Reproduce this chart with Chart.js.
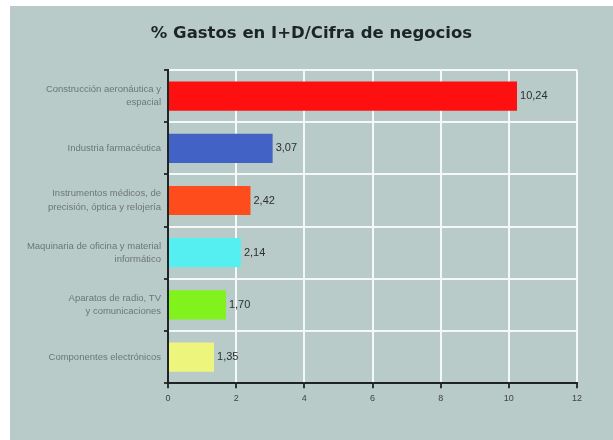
<!DOCTYPE html>
<html>
<head>
<meta charset="utf-8">
<script src="https://cdn.jsdelivr.net/npm/chart.js@4"></script>
<style>
  html, body { margin: 0; padding: 0; background: #ffffff; }
  #wrap {
    position: absolute; left: 10px; top: 6px;
    width: 603px; height: 434px;
    background: #b9cbc9;
  }
</style>
</head>
<body>
<div id="wrap"><canvas id="chart"></canvas></div>
<script>
// Sector labels (wrapped as in the original) and their values
const sectors = [
  ['Construcción aeronáutica y', 'espacial'],
  ['Industria farmacéutica'],
  ['Instrumentos médicos, de', 'precisión, óptica y relojería'],
  ['Maquinaria de oficina y material', 'informático'],
  ['Aparatos de radio, TV', 'y comunicaciones'],
  ['Componentes electrónicos']
];
const gastoPct = [10.24, 3.07, 2.42, 2.14, 1.70, 1.35];
const barColors = ['#ff1010', '#4262c6', '#ff4c1c', '#55eff2', '#82f21c', '#eef57c'];
const xTicks = [0, 2, 4, 6, 8, 10, 12];
const chartTitle = '% Gastos en I+D/Cifra de negocios';

// draws the value next to the end of each bar, and the title centred on the whole canvas
const valueLabels = {
  id: 'valueLabels',
  afterDatasetsDraw(chart) {
    const ctx = chart.ctx;
    const meta = chart.getDatasetMeta(0);
    ctx.save();
    ctx.font = '11px "Liberation Sans", Arial, sans-serif';
    ctx.fillStyle = '#2a3030';
    ctx.textBaseline = 'middle';
    ctx.textAlign = 'left';
    meta.data.forEach((bar, i) => {
      ctx.fillText(gastoPct[i].toFixed(2).replace('.', ','), bar.x + 3, bar.y);
    });

    ctx.font = 'bold 16.5px "DejaVu Sans", Verdana, sans-serif';
    ctx.fillStyle = '#1c2424';
    ctx.textAlign = 'center';
    ctx.fillText(chartTitle, chart.width / 2, 28);
    ctx.restore();
  }
};

new Chart(document.getElementById('chart'), {
  type: 'bar',
  data: {
    labels: sectors,
    datasets: [{
      data: gastoPct,
      backgroundColor: barColors,
      barPercentage: 0.56,
      categoryPercentage: 1
    }]
  },
  options: {
    indexAxis: 'y',
    responsive: true,
    maintainAspectRatio: false,
    animation: false,
    layout: { padding: { left: 0, right: 36, top: 64, bottom: 31 } },
    plugins: {
      legend: { display: false },
      tooltip: { enabled: false },
      title: { display: false }
    },
    scales: {
      x: {
        min: 0,
        max: 12,
        afterBuildTicks: scale => { scale.ticks = xTicks.map(v => ({ value: v })); },
        grid: { color: '#f4f8f8', lineWidth: 2, tickColor: '#333', tickLength: 5 },
        border: { color: '#1e2424', width: 2 },
        ticks: {
          color: '#3c4444',
          padding: 5,
          font: { family: '"Liberation Sans", Arial, sans-serif', size: 9 }
        }
      },
      y: {
        afterFit: scale => { scale.width = 158; },
        grid: { color: '#f4f8f8', lineWidth: 2, tickColor: '#333', tickLength: 4 },
        border: { color: '#1e2424', width: 2 },
        ticks: {
          color: '#6c7676',
          padding: 3,
          font: { family: '"Liberation Sans", Arial, sans-serif', size: 9.5, lineHeight: 1.4 }
        }
      }
    }
  },
  plugins: [valueLabels]
});
</script>
</body>
</html>
